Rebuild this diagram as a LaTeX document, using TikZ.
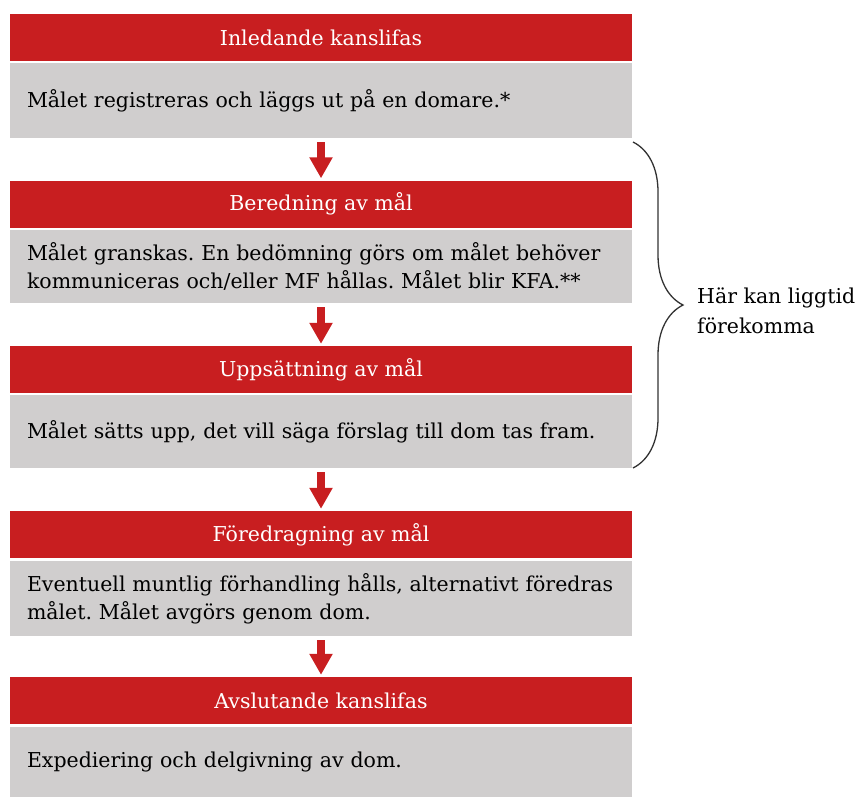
\documentclass[tikz,border=0pt]{standalone}
\usepackage{fontspec}
\setmainfont{DejaVu Serif}
\usetikzlibrary{arrows.meta,decorations.pathreplacing}
\definecolor{barred}{RGB}{200,30,32}
\definecolor{boxgray}{RGB}{208,206,206}
\definecolor{bracegray}{RGB}{50,50,50}
\tikzset{
  redbar/.style={fill=barred, text=white, minimum width=622pt, minimum height=47pt, inner sep=0pt, font=\fontsize{20.5}{24}\selectfont},
  graybox/.style={fill=boxgray, text=black, minimum width=622pt, inner sep=0pt, text width=588pt, align=left, font=\fontsize{20.5}{28}\selectfont},
  flowarrow/.style={draw=barred, line width=8pt, -{Triangle[width=22pt,length=21pt]}, shorten >=2pt, shorten <=4pt},
}
\begin{document}
\frenchspacing
\begin{tikzpicture}[x=1pt,y=1pt]
\useasboundingbox (0,0) rectangle (858,-796);
\node[redbar] (h1) at (321,-37.5) {Inledande kanslifas};
\node[graybox, minimum height=75pt] (b1) at (321,-100.5) {Målet registreras och läggs ut på en domare.*};
\node[redbar] (h2) at (321,-204) {Beredning av mål};
\node[graybox, minimum height=73pt] (b2) at (321,-266.5) {Målet granskas. En bedömning görs om målet behöver\\kommuniceras och/eller MF hållas. Målet blir KFA.**};
\node[redbar] (h3) at (321,-369.5) {Uppsättning av mål};
\node[graybox, minimum height=73pt] (b3) at (321,-431.5) {Målet sätts upp, det vill säga förslag till dom tas fram.};
\node[redbar] (h4) at (321,-534.5) {Föredragning av mål};
\node[graybox, minimum height=75pt] (b4) at (321,-598.5) {Eventuell muntlig förhandling hålls, alternativt föredras\\målet. Målet avgörs genom dom.};
\node[redbar] (h5) at (321,-700.5) {Avslutande kanslifas};
\node[graybox, minimum height=70pt] (b5) at (321,-762) {Expediering och delgivning av dom.};
\draw[flowarrow] (b1.south) -- (h2.north);
\draw[flowarrow] (b2.south) -- (h3.north);
\draw[flowarrow] (b3.south) -- (h4.north);
\draw[flowarrow] (b4.south) -- (h5.north);
\coordinate (bt) at (633,-142);
\coordinate (bb) at (633,-468);
\draw[bracegray, line width=1.3pt, decorate, decoration={brace, amplitude=50pt}] (bt) -- (bb);
\node[anchor=west, align=left, inner sep=0pt, font=\fontsize{20.5}{30}\selectfont] (note) at (697,-311) {Här kan liggtid\\förekomma};
\end{tikzpicture}
\end{document}
